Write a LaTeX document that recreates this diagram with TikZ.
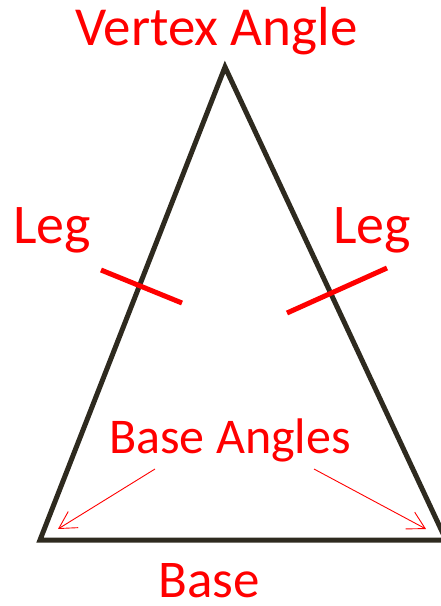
\documentclass[tikz,border=0pt]{standalone}
\usepackage{fontspec}
\setmainfont{Carlito}
\usetikzlibrary{arrows.meta}
\definecolor{lineDark}{HTML}{2E2A1F}
\definecolor{lblRed}{HTML}{FF0000}
\tikzset{
  lbl/.style={text=lblRed, inner sep=0pt, anchor=base west},
  side/.style={draw=lineDark, line width=5pt, line join=miter},
  tickmark/.style={draw=lblRed, line width=5pt},
  pointer/.style={draw=lblRed, line width=0.9pt, -{Straight Barb[length=17pt,width=19pt,line width=0.9pt]}}
}
\begin{document}
\begin{tikzpicture}[x=1pt,y=-1pt]
\useasboundingbox (0,0) rectangle (441,606);
\clip (0,0) rectangle (441,606);
% vertices
\coordinate (A) at (225,67);
\coordinate (B) at (40,540);
\coordinate (C) at (446,540);
\draw[side] (A) -- (B) -- (C) -- cycle;
% tick marks
\coordinate (t1a) at (101,270);
\coordinate (t1b) at (182,303);
\coordinate (t2a) at (287,313);
\coordinate (t2b) at (387,268);
\draw[tickmark] (t1a) -- (t1b);
\draw[tickmark] (t2a) -- (t2b);
% labels
\node[lbl, font=\fontsize{55}{60}\selectfont] (vtx) at (75,45) {Vertex Angle};
\node[lbl, font=\fontsize{56}{60}\selectfont] (legL) at (13,243) {Leg};
\node[lbl, font=\fontsize{56}{60}\selectfont] (legR) at (333,243) {Leg};
\node[lbl, font=\fontsize{50}{54}\selectfont] (bang) at (109,453) {Base Angles};
\node[lbl, font=\fontsize{53}{60}\selectfont] (base) at (158,597) {Base};
% arrows
\coordinate (p1s) at (155,469);
\coordinate (p1e) at (58,529);
\coordinate (p2s) at (314,469);
\coordinate (p2e) at (426,529);
\draw[pointer] (p1s) -- (p1e);
\draw[pointer] (p2s) -- (p2e);
\end{tikzpicture}
\end{document}
